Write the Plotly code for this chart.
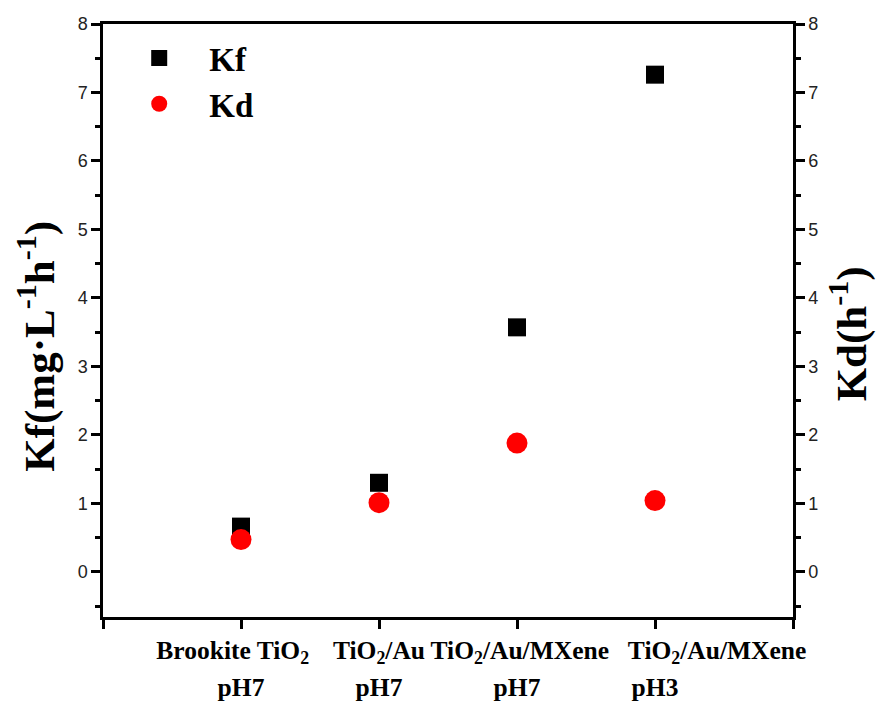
import plotly.graph_objects as go

categories = ["Brookite TiO<sub>2</sub>", "TiO<sub>2</sub>/Au", "TiO<sub>2</sub>/Au/MXene", "TiO<sub>2</sub>/Au/MXene"]
conditions = ["pH7", "pH7", "pH7", "pH3"]
x_pos = [0, 1, 2, 3]
label_pos = [-0.06, 0, 0.02, 0.45]   # label offsets from tick, as in the original figure
kf = [0.66, 1.30, 3.57, 7.26]
kd = [0.47, 1.01, 1.88, 1.04]
y_ticks = [0, 1, 2, 3, 4, 5, 6, 7, 8]
y_minor = [-0.5, 0.5, 1.5, 2.5, 3.5, 4.5, 5.5, 6.5, 7.5]
y_title_left = "Kf(mg·L<sup>-1</sup>h<sup>-1</sup>)"
y_title_right = "Kd(h<sup>-1</sup>)"

serif = "Liberation Serif, Times New Roman, serif"
sans = "Liberation Sans, Arial, sans-serif"

line_pos = [p + o for p, o in zip(x_pos, label_pos)]

fig = go.Figure()
fig.add_trace(go.Scatter(x=x_pos, y=kf, mode="markers", name="Kf",
                         marker=dict(symbol="square", size=18, color="black"),
                         xaxis="x", yaxis="y"))
fig.add_trace(go.Scatter(x=x_pos, y=kd, mode="markers", name="Kd",
                         marker=dict(symbol="circle", size=21, color="#ff0000"),
                         xaxis="x", yaxis="y2"))
for ax in ("x2", "x3"):
    fig.add_trace(go.Scatter(x=x_pos, y=kf, mode="markers", showlegend=False,
                             marker=dict(opacity=0), hoverinfo="skip",
                             xaxis=ax, yaxis="y"))

xr = [-1, 4]
yr = [-0.66, 8]
line_w = 2.5
lab_font = dict(family=serif, size=25.5, color="black", weight="bold")
title_font = dict(family=serif, size=43, color="black", weight="bold")

fig.update_layout(
    width=879, height=706,
    margin=dict(l=103, r=86, t=24, b=89),
    plot_bgcolor="white", paper_bgcolor="white",
    showlegend=True,
    legend=dict(x=0.009, y=0.99, xanchor="left", yanchor="top",
                font=dict(family=serif, size=33, color="black", weight="bold"),
                bgcolor="rgba(0,0,0,0)", itemsizing="trace", itemwidth=90),
    xaxis=dict(range=xr, tickmode="array", tickvals=[-1, 0, 1, 2, 3, 4],
               showticklabels=False, automargin=False,
               showline=True, linecolor="black", linewidth=line_w, mirror=True,
               ticks="outside", ticklen=9, tickwidth=line_w, tickcolor="black",
               showgrid=False, zeroline=False),
    xaxis2=dict(range=xr, overlaying="x", side="bottom", tickmode="array",
                tickvals=line_pos, ticktext=categories, ticks="", showline=False,
                showgrid=False, zeroline=False, tickangle=0, automargin=False,
                ticklabelstandoff=15, tickfont=lab_font),
    xaxis3=dict(range=xr, overlaying="x", side="bottom", tickmode="array",
                tickvals=x_pos, ticktext=conditions, ticks="", showline=False,
                showgrid=False, zeroline=False, tickangle=0, automargin=False,
                ticklabelstandoff=52, tickfont=lab_font),
    yaxis=dict(range=yr, tickmode="array", tickvals=y_ticks, automargin=False,
               showline=True, linecolor="black", linewidth=line_w,
               ticks="outside", ticklen=9, tickwidth=line_w, tickcolor="black",
               minor=dict(tickmode="array", tickvals=y_minor,
                          ticks="outside", ticklen=5, tickwidth=line_w, tickcolor="black"),
               showgrid=False, zeroline=False,
               tickfont=dict(family=sans, size=18, color="#222")),
    yaxis2=dict(range=yr, overlaying="y", side="right", tickmode="array", tickvals=y_ticks,
                automargin=False,
                showline=True, linecolor="black", linewidth=line_w,
                ticks="outside", ticklen=9, tickwidth=line_w, tickcolor="black",
                minor=dict(tickmode="array", tickvals=y_minor,
                           ticks="outside", ticklen=5, tickwidth=line_w, tickcolor="black"),
                showgrid=False, zeroline=False,
                tickfont=dict(family=sans, size=18, color="#222")),
    annotations=[
        dict(text=y_title_left, textangle=-90, xref="paper", yref="paper",
             x=-0.096, y=0.457, xanchor="center", yanchor="middle",
             showarrow=False, font=title_font),
        dict(text=y_title_right, textangle=-90, xref="paper", yref="paper",
             x=1.08, y=0.477, xanchor="center", yanchor="middle",
             showarrow=False, font=title_font),
    ],
)

fig.write_html("out.html")
